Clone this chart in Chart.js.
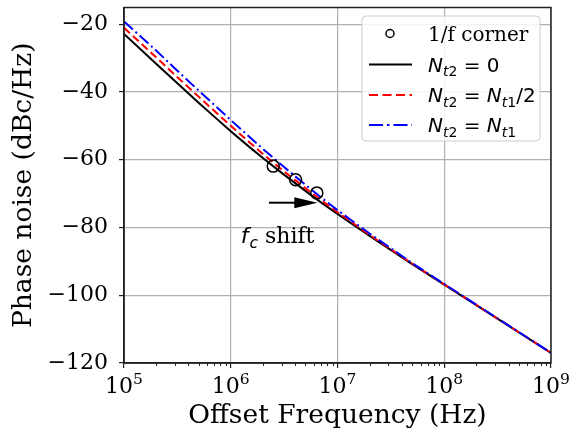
<!DOCTYPE html>
<html><head><meta charset="utf-8">
<script src="https://cdn.jsdelivr.net/npm/chart.js@4"></script>
<style>html,body{margin:0;padding:0;background:#fff}#wrap{width:570px;height:434px}</style>
</head><body><div id="wrap"><canvas id="c" width="570" height="434"></canvas></div>
<script>
// ---- data ----
const freqs   = [1e5, 2e5, 3e5, 5e5, 7e5, 1e6, 1.5e6, 2e6, 3e6, 5e6, 7e6, 1e7, 2e7, 5e7, 1e8, 1e9];
const pnNone  = [-22.9, -31.7, -36.8, -43.2, -47.3, -51.6, -56.3, -59.5, -63.9, -69.2, -72.6, -76.0, -82.5, -90.8, -96.9, -117.0];
const pnHalf  = [-21.1, -29.8, -35.0, -41.4, -45.6, -50.0, -54.9, -58.3, -62.9, -68.4, -71.9, -75.5, -82.2, -90.7, -96.8, -117.0];
const pnFull  = [-19.2, -27.8, -33.1, -39.6, -43.8, -48.3, -53.3, -56.8, -61.6, -67.4, -71.1, -74.9, -81.8, -90.5, -96.7, -117.0];
const cornerFreqs = [2.5e6, 4.05e6, 6.4e6];
const cornerPN    = [-61.9, -65.9, -69.8];
const xTickValues = [1e5, 1e6, 1e7, 1e8, 1e9];
const xTickBase   = '10';
const xTickExps   = ['5', '6', '7', '8', '9'];
const yTickValues = [-120, -100, -80, -60, -40, -20];
const yTickLabels = ['−120', '−100', '−80', '−60', '−40', '−20'];
const seriesNames = ['1/f corner', 'N_t2 = 0', 'N_t2 = N_t1/2', 'N_t2 = N_t1'];

const SERIF = '"DejaVu Serif", serif';
const toXY = (xs, ys) => xs.map((x, i) => ({x: x, y: ys[i]}));

function drawRich(ctx, x, y, parts) {
  for (const p of parts) {
    ctx.font = p.f;
    ctx.fillText(p.t, x, y + (p.dy || 0));
    x += ctx.measureText(p.t).width + (p.sp || 0);
  }
  return x;
}
function richWidth(ctx, parts) {
  let w = 0;
  for (const p of parts) { ctx.font = p.f; w += ctx.measureText(p.t).width + (p.sp || 0); }
  return w;
}
const IT = 'italic 20px "DejaVu Sans"', UP = '20px "DejaVu Sans"';
const ITs = 'italic 14px "DejaVu Sans"', UPs = '14px "DejaVu Sans"';
function nSub(idx) {
  return [{t: 'N', f: IT}, {t: 't', f: ITs, dy: 4.5}, {t: idx, f: UPs, dy: 4.5}];
}
const legendRich = [
  [{t: seriesNames[0], f: '20px ' + SERIF}],
  nSub('2').concat([{t: ' = ', f: UP}, {t: '0', f: UP}]),
  nSub('2').concat([{t: ' = ', f: UP}], nSub('1'), [{t: '/2', f: UP}]),
  nSub('2').concat([{t: ' = ', f: UP}], nSub('1'))
];

const decor = {
  id: 'decor',
  afterDatasetsDraw(chart) {
    const ctx = chart.ctx, a = chart.chartArea;
    const xs = chart.scales.x, ys = chart.scales.y;
    ctx.save();
    // frame
    ctx.strokeStyle = '#222'; ctx.lineWidth = 1.5;
    ctx.strokeRect(a.left, a.top, a.right - a.left, a.bottom - a.top);
    // minor ticks on log axis
    ctx.lineWidth = 1;
    for (let n = 5; n < 9; n++) {
      for (let k = 2; k < 10; k++) {
        const px = Math.round(xs.getPixelForValue(k * Math.pow(10, n))) + 0.5;
        ctx.beginPath(); ctx.moveTo(px, a.bottom); ctx.lineTo(px, a.bottom + 3); ctx.stroke();
      }
    }
    // x tick labels 10^n with superscript
    ctx.fillStyle = '#000'; ctx.textBaseline = 'alphabetic'; ctx.textAlign = 'left';
    xTickValues.forEach((v, i) => {
      const parts = [{t: xTickBase, f: '22px ' + SERIF}, {t: xTickExps[i], f: '15.5px ' + SERIF, dy: -8.7}];
      const w = richWidth(ctx, parts);
      drawRich(ctx, xs.getPixelForValue(v) - w / 2, 393, parts);
    });
    // arrow
    const x0 = xs.getPixelForValue(2.28e6), x1 = xs.getPixelForValue(6.47e6), ya = ys.getPixelForValue(-72.7);
    ctx.strokeStyle = '#000'; ctx.fillStyle = '#000'; ctx.lineWidth = 2;
    ctx.beginPath(); ctx.moveTo(x0, ya); ctx.lineTo(x1 - 20, ya); ctx.stroke();
    ctx.beginPath(); ctx.moveTo(x1, ya); ctx.lineTo(x1 - 23, ya - 5.5); ctx.lineTo(x1 - 23, ya + 5.5); ctx.closePath(); ctx.fill();
    // f_c shift label
    const tx = xs.getPixelForValue(1.24e6), ty = ys.getPixelForValue(-84.7);
    drawRich(ctx, tx, ty, [
      {t: 'f', f: 'italic 22px "DejaVu Sans"', sp: 1},
      {t: 'c', f: 'italic 15.5px "DejaVu Sans"', dy: 5},
      {t: ' shift', f: '22px ' + SERIF}
    ]);
    // legend
    const L = {x: 362, y: 16, w: 178, h: 125};
    ctx.beginPath();
    ctx.roundRect(L.x, L.y, L.w, L.h, 4);
    ctx.fillStyle = 'rgba(255,255,255,0.85)'; ctx.fill();
    ctx.strokeStyle = '#cccccc'; ctx.lineWidth = 1; ctx.stroke();
    const rows = [33.5, 64.5, 95, 125];
    const ds = chart.data.datasets;
    ctx.beginPath(); ctx.arc(390, rows[0], 4, 0, Math.PI * 2);
    ctx.strokeStyle = ds[3].pointBorderColor; ctx.lineWidth = 1.5; ctx.stroke();
    const legendDash = [[], [9, 4.5], [14, 4, 2.5, 4]];
    for (let i = 0; i < 3; i++) {
      const d = ds[i];
      ctx.beginPath(); ctx.setLineDash(legendDash[i]);
      ctx.strokeStyle = d.borderColor; ctx.lineWidth = d.borderWidth;
      ctx.moveTo(369, rows[i + 1]); ctx.lineTo(412, rows[i + 1]); ctx.stroke();
    }
    ctx.setLineDash([]);
    ctx.fillStyle = '#000';
    for (let i = 0; i < 4; i++) drawRich(ctx, 428, rows[i] + 7, legendRich[i]);
    ctx.restore();
  }
};

new Chart(document.getElementById('c'), {
  type: 'line',
  data: {
    datasets: [
      {label: seriesNames[1], data: toXY(freqs, pnNone), borderColor: '#000000', borderWidth: 2, pointRadius: 0, tension: 0, fill: false, order: 3},
      {label: seriesNames[2], data: toXY(freqs, pnHalf), borderColor: '#ff0000', borderWidth: 2, borderDash: [8, 4], pointRadius: 0, tension: 0, fill: false, order: 2},
      {label: seriesNames[3], data: toXY(freqs, pnFull), borderColor: '#0000ff', borderWidth: 2, borderDash: [12, 3.5, 2, 3.5], pointRadius: 0, tension: 0, fill: false, order: 1},
      {label: seriesNames[0], data: toXY(cornerFreqs, cornerPN), showLine: false, pointRadius: 6, pointBorderWidth: 1.5, pointBorderColor: '#000000', pointBackgroundColor: 'rgba(0,0,0,0)', order: 0}
    ]
  },
  options: {
    responsive: false, animation: false, devicePixelRatio: 1,
    layout: {padding: {top: 7, right: 19, left: 0, bottom: 0}},
    plugins: {legend: {display: false}, tooltip: {enabled: false}},
    scales: {
      x: {
        type: 'logarithmic', min: 1e5, max: 1e9,
        afterBuildTicks: s => { s.ticks = xTickValues.map(v => ({value: v, major: true})); },
        afterFit: s => { s.height = 71; s.paddingLeft = 0; s.paddingRight = 0; },
        ticks: {autoSkip: false, maxRotation: 0, color: '#000', padding: 4, font: {family: SERIF, size: 22},
          callback: () => ''},
        grid: {color: '#b0b0b0', lineWidth: 1.2, tickColor: '#222', tickLength: 5},
        border: {display: true, color: '#222', width: 1.5},
        title: {display: true, text: 'Offset Frequency (Hz)', color: '#000', font: {family: SERIF, size: 26.5}, padding: {top: 0, bottom: 2}}
      },
      y: {
        type: 'linear', min: -120, max: -15.1,
        afterBuildTicks: s => { s.ticks = yTickValues.map(v => ({value: v})); },
        afterFit: s => { s.width = 124; s.paddingTop = 0; s.paddingBottom = 0; },
        ticks: {color: '#000', padding: 11, font: {family: SERIF, size: 22},
          callback: v => { const i = yTickValues.indexOf(v); return i >= 0 ? yTickLabels[i] : ''; }},
        grid: {color: '#b0b0b0', lineWidth: 1.2, tickColor: '#222', tickLength: 5},
        border: {display: true, color: '#222', width: 1.5},
        title: {display: true, text: 'Phase noise (dBc/Hz)', color: '#000', font: {family: SERIF, size: 26.5}, padding: {top: 8, bottom: 0}}
      }
    }
  },
  plugins: [decor]
});
</script></body></html>
